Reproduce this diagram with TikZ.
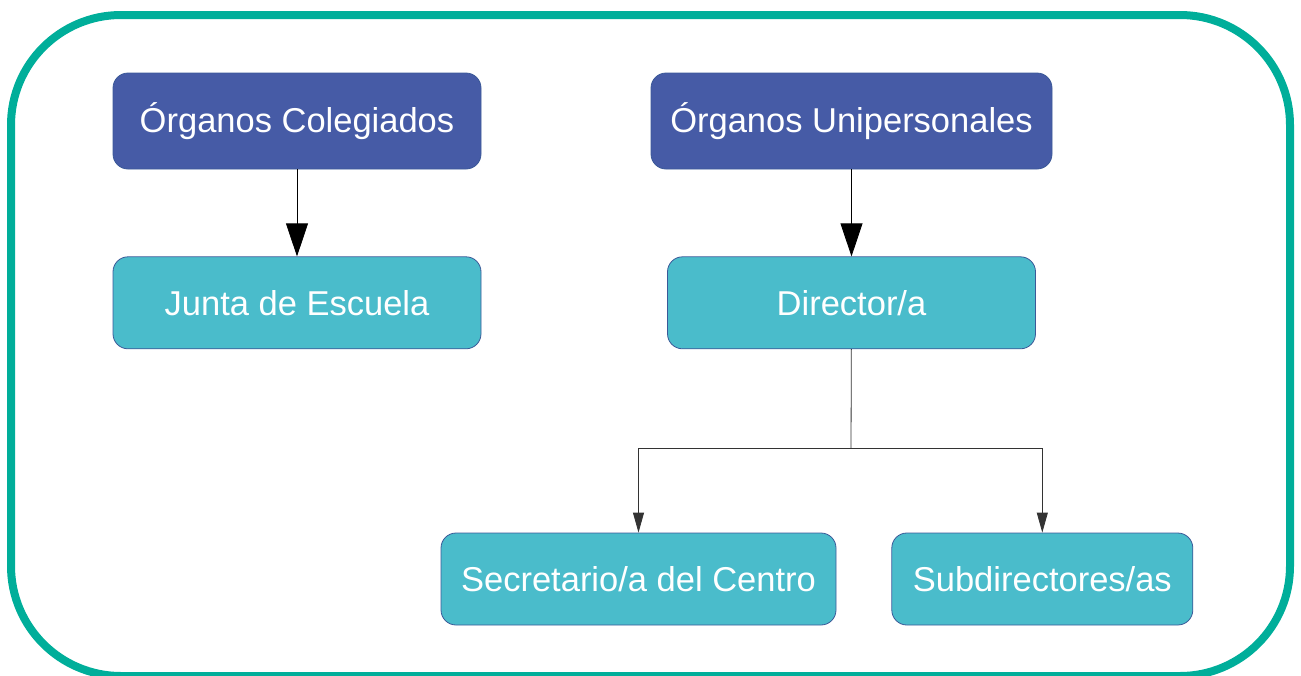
\documentclass[tikz,border=0pt]{standalone}
\usepackage{fontspec}
\setmainfont{Liberation Sans}
\usepackage{xcolor}
\usetikzlibrary{positioning,arrows.meta}

\definecolor{frameteal}{HTML}{00AE9A}
\definecolor{headblue}{HTML}{465BA6}
\definecolor{boxcyan}{HTML}{4ABCCB}
\definecolor{edgeblue}{HTML}{3B5998}

\begin{document}
\begin{tikzpicture}[->,>={Triangle[length=33pt,width=22pt]},x=1pt,y=-1pt,node distance=87pt]
  \tikzstyle{org}=[draw=edgeblue, line width=0.8pt, rounded corners=15pt, text=white,
    font=\fontsize{34.5}{40}\selectfont, inner sep=0pt]
  \tikzstyle{head}=[org, fill=headblue, minimum height=96pt]
  \tikzstyle{unit}=[org, fill=boxcyan, minimum height=92pt]

  \useasboundingbox (0,0) rectangle (1301,675);
  \draw[-, frameteal, line width=8pt, rounded corners=110pt] (11,15) rectangle (1290,676);

  \node[head, minimum width=368pt] (colegiados) at (297,121) {Órganos Colegiados};
  \node[head, minimum width=401pt] (unipersonales) at (851.5,121) {Órganos Unipersonales};
  \node[unit, minimum width=368pt] (junta) [below=of colegiados] {Junta de Escuela};
  \node[unit, minimum width=368pt] (director) [below=of unipersonales] {Director/a};
  \node[unit, minimum width=395pt] (secretario) at (638.5,579) {Secretario/a del Centro};
  \node[unit, minimum width=301pt] (subdirectores) [right=55pt of secretario] {Subdirectores/as};
  \coordinate (split) at (851,448);

  \path[line width=0.8pt]
    (colegiados) edge (junta)
    (unipersonales) edge (director);
  \draw[-, line width=0.8pt, black!80] (director) -- (split);
  \draw[line width=0.8pt, black!80, >={Triangle[length=20pt,width=11pt]}]
    (split) -| (secretario);
  \draw[line width=0.8pt, black!80, >={Triangle[length=20pt,width=11pt]}]
    (split) -| (subdirectores);
\end{tikzpicture}
\end{document}
